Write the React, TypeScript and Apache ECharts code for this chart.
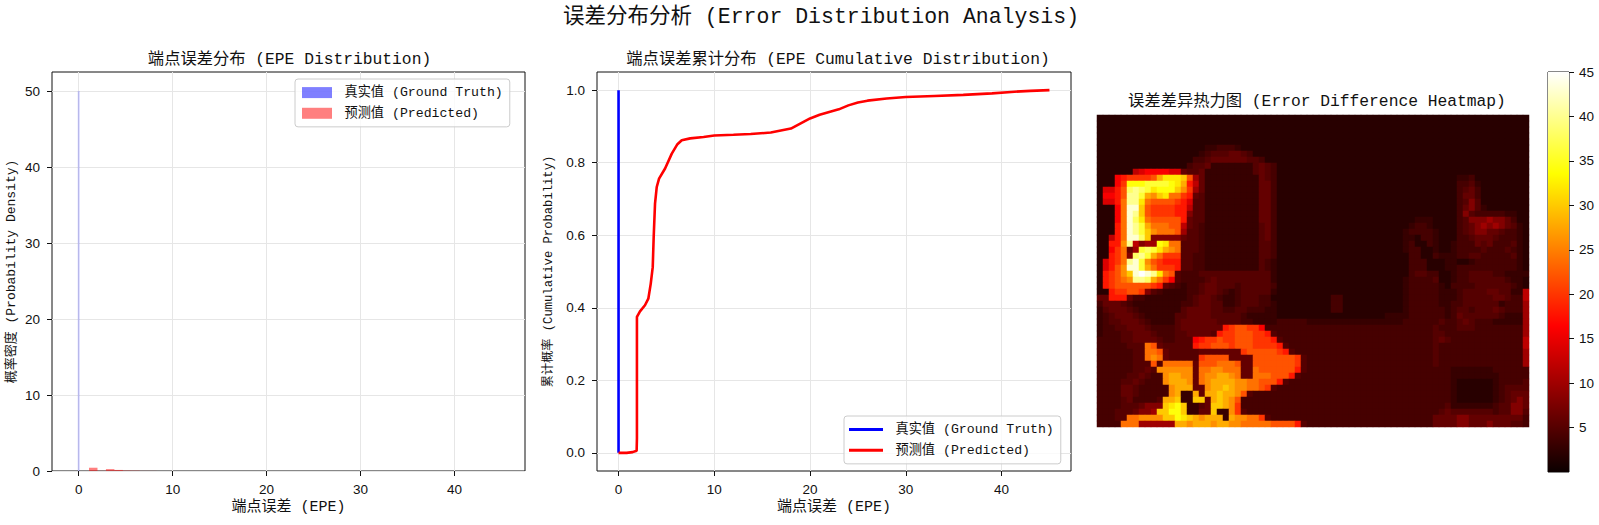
import React, { useEffect, useRef } from "react";
import * as echarts from "echarts";

const SUPTITLE = "误差分布分析 (Error Distribution Analysis)";
const TITLE_HIST = "端点误差分布 (EPE Distribution)";
const TITLE_CDF = "端点误差累计分布 (EPE Cumulative Distribution)";
const TITLE_HEAT = "误差差异热力图 (Error Difference Heatmap)";
const X_LABEL = "端点误差 (EPE)";
const Y_LABEL_HIST = "概率密度 (Probability Density)";
const Y_LABEL_CDF = "累计概率 (Cumulative Probability)";
const NAME_GT = "真实值 (Ground Truth)";
const NAME_PRED = "预测值 (Predicted)";

const X_TICKS = [0, 10, 20, 30, 40];
const HIST_Y_TICKS = [0, 10, 20, 30, 40, 50];
const CDF_Y_TICKS = [0, 0.2, 0.4, 0.6, 0.8, 1.0];
const BAR_TICKS = [5, 10, 15, 20, 25, 30, 35, 40, 45];

// histogram bins: [from, to, density]
const HIST_GT = [[-0.1, 0.1, 50]];
const HIST_PRED = [
  [1.1, 2.0, 0.43], [2.0, 2.9, 0.02], [2.9, 3.8, 0.25], [3.8, 4.7, 0.14], [4.7, 5.6, 0.05],
  [5.6, 6.5, 0.04], [6.5, 7.4, 0.01], [7.4, 8.3, 0.01], [8.3, 15, 0.005], [15, 25, 0.006], [25, 45, 0.001],
];

const CDF_GT = [[0, 0], [0, 1]];
const CDF_PRED = [
  [0, 0], [0.84, 0], [1.47, 0.002], [1.89, 0.006], [1.92, 0.04], [1.92, 0.227], [1.92, 0.375], [2.24, 0.39],
  [2.76, 0.407], [3.11, 0.425], [3.36, 0.466], [3.57, 0.512], [3.67, 0.595], [3.81, 0.687], [3.99, 0.733],
  [4.23, 0.756], [4.86, 0.784], [5.56, 0.825], [6.15, 0.851], [6.6, 0.862], [7.48, 0.867], [8.88, 0.871],
  [10, 0.875], [12, 0.877], [13.8, 0.879], [15.9, 0.883], [18, 0.894], [20, 0.922], [21, 0.932], [22, 0.94],
  [23, 0.947], [24, 0.958], [25, 0.966], [26, 0.971], [28, 0.977], [30, 0.981], [33, 0.984], [36, 0.987],
  [39, 0.991], [41, 0.995], [43, 0.998], [45, 1],
];

// value represented by each letter of the heat rows
const HEAT_LEVELS: Record<string, number> = {
  a: 2, b: 3, c: 4, d: 5, e: 6, f: 8, g: 10, h: 12, i: 14, j: 16, k: 18, l: 20, m: 22, n: 24,
  o: 26, p: 28, q: 30, r: 32, s: 34, t: 36, u: 38, v: 40, w: 43, x: 45,
};

// left half of the picture, read from top to bottom (spaces only group the letters)
const HEAT_LEFT = [
  "aaaaaaaaaaaaaaaaaaaaaaaaaaaaaaaaaaaa",
  "aaaaaaaaaaaaaaaaaaaaaaaaaaaaaaaaaaaa",
  "aaaaaaaaaaaaaaaaaaaaaaaaaaaaaaaaaaaa",
  "aaaaaaaaaaaaaaaaaaaaaaaaaaaaaaaaaaaa",
  "aaaaaaaaaaaaaaaaaaaaaaaaaaaaaaaaaaaa",
  "aaaaaaaaaaaaaaaaaa bbcccb aaaaaaaaaaaa",
  "aaaaaaaaaaaaaaaaa bcdddeedc aaaaaaaaaa",
  "aaaaaaaaaaaaaaaa ccdeeeeeeddc aaaaaaaa",
  "aaaaaaaaaaaaaaa cddebbbbbbbdedc aaaaaa",
  "aaaaaa hijjjjii edd e bbbbbbbb ded c aaaaaa",
  "aaa jkllllm prrrq mg e bbbbbbbbb ed c aaaaaa",
  "aaa jl ssstt ttsrp kh e bbbbbbbbb eec aaaaaa",
  "a iikm uvutr sssqo lg e bbbbbbbbb eec aaaaaa",
  "a jjkm vvtpo qrnnl ke d bbbbbbbbb eec aaaaaa",
  "a iikn vvrnm mmmlk id d bbbbbbbbb eec aaaaaa",
  "aaa jn wwqml lllkk hd d bbbbbbbbb eec aaaaaa",
  "aaa jn wvqml lllkk fd d bbbbbbbbb eec aaaaaa",
  "aaa jn wurnm mmmmk ed d bbbbbbbbb eec aaaaaa",
  "aaa kn wvtpn nnmmh ed c bbbbbbbbb dec aaaaaa",
  "aaa kn wvtqo nnnmg dd c bbbbbbbbb dec aaaaaa",
  "aa hkn wwuqf ffffe dd c bbbbbbbbb dec aaaaaa",
  "aa kko vhfgg srnnd dd c bbbbbbbbb ddc aaaaaa",
  "aa jln egtut rpond dd c bbbbbbbbb ddc aaaaaa",
  "aa kln fuvtp nllld dc c bbbbbbbbb ddc aaaaaa",
  "a ikln vwtom lkkkd dc c bbbbbbbbb dcb aaaaaa",
  "a ikmo wwtpn lllkd dc c bbbbbbbbb dcb aaaaaa",
  "a klmo qwxwv rnmdc cc dddddddddd ddb aaaaaa",
  "a klmn ovvup nljdc cc cdeddddddd ddb aaaaaa",
  "a klmm mmmml kedcb cc deedddcddd ddc aaaaaa",
  "aa kll mmlfd cbbbb cc deedcbcddd ddb aaaaaa",
  "ee kkk eccbb bbbbb cd eedcbbcddd cca aaaaaa",
  "cee edcb bbbbbb bccd eeddbbcddd ccb aaaaaa",
  "bde eedc bbbbbb bdee eeddccddcc cbb aaaaaa",
  "bcd eeed cbbbbb ddee eedddddcbb bbb aaaaaa",
  "bcd deee dcbbbb deee eeeddddccb bbb cccccb",
  "bcc ddee edcccc deee eeeeklmmll jcc cccccc",
  "bcc cdde eedccc ddee eedkllmmml lkd cccccc",
  "ccc cdde eeedcc dddj kllmllmmml llk dccccc",
  "ccc ccdd dnmedd dddk llmmmlmmml lll kdcccc",
  "ccc cccd dnnmed dddd eeeeeeelmm mmm lkdccc",
  "ccc cccd dnoned dddd lmmmmeeeem mmm mmmldc",
  "ccc cccd ddmdnn nnne mmmnnnmeem mmm mmmldc",
  "ccc cccd dedooo oooe nnoonnneen mmm mmmkdc",
  "ccc ccdd edccop pooe noopponeen nnm mmkdcc",
  "ccc cdde dcccop ppoe noppppoonn mmm kdcccc",
  "ccc ceed ccccco pppe eoppqpoonn mld cccccc",
  "ccc ceed ccccco pbbp eppqppomdc ccc cccccc",
  "ccc cdec cccdpp qbbq qepqpomccc ccc cccccc",
  "ccc cddd efffqr sqbb deqqpolccc ccc cccccc",
  "ccc ddde ffgqqs sqbb eeqbboldcc ccc cccccc",
  "ccc ddnn ooooqq srqp opppbpoonn ldc cccccc",
  "ccc cnnn gggggg ppop ppoppoonnn nnm mmmkdc",
];

// right half of the picture, same rows
const HEAT_RIGHT = [
  "aaaaaaaaaaaaaaaaaaaaaaaaaaaaaaaaaaaa",
  "aaaaaaaaaaaaaaaaaaaaaaaaaaaaaaaaaaaa",
  "aaaaaaaaaaaaaaaaaaaaaaaaaaaaaaaaaaaa",
  "aaaaaaaaaaaaaaaaaaaaaaaaaaaaaaaaaaaa",
  "aaaaaaaaaaaaaaaaaaaaaaaaaaaaaaaaaaaa",
  "aaaaaaaaaaaaaaaaaaaaaaaaaaaaaaaaaaaa",
  "aaaaaaaaaaaaaaaaaaaaaaaaaaaaaaaaaaaa",
  "aaaaaaaaaaaaaaaaaaaaaaaaaaaaaaaaaaaa",
  "aaaaaaaaaaaaaaaaaaaaaaaaaaaaaaaaaaaa",
  "aaaaaaaaaaaaaaaaaaaaaaaaaaaaaaaaaaaa",
  "aaaaaaaaaaaaaaaaaaaaaaaa bbc aaaaaaaaa",
  "aaaaaaaaaaaaaaaaaaaaaaaa ccdb aaaaaaaa",
  "aaaaaaaaaaaaaaaaaaaaaaaa cdec aaaaaaaa",
  "aaaaaaaaaaaaaaaaaaaaaaaa ceec aaaaaaaa",
  "aaaaaaaaaaaaaaaaaaaaaaaa cdfd aaaaaaaa",
  "aaaaaaaaaaaaaaaaaaaaaaaa cefdb aaaaaaa",
  "aaaaaaaaaaaaaaaaaaaaaaaa cfdcccccbb aa",
  "aaaaaaaaaaaaaaaaa bbb aaaa cdfffgffec aa",
  "aaaaaaaaaaaaaaaa bccb aaaa cdefgfgfed ba",
  "aaaaaaaaaaaaaaa bccccb aaa cdeffeedcc ba",
  "aaaaaaaaaaaaaaa bbaccb aaa ccdeeedccc ba",
  "aaaaaaaaaaaaaaa bcaacb aab cccedecccd ba",
  "aaaaaaaaaaaaaaa bccaab aab ccccdcccdc ba",
  "aaaaaaaaaaaaaaa accaac bbb ccddcccccd ba",
  "aaaaaaaaaaaaaaa acccaa abb aabccccccc ba",
  "aaaaaaaaaaaaaaa acccaa abb cccccccccc ba",
  "aaaaaaaaaaaaaaaa cddcc aab ccd dddcc bbbb",
  "aaaaaaaaaaaaaaa bccccd aab ccdddd ddcb ba",
  "aaaaaaaaaaaaaaa bccccc bac cccddd dddc ba",
  "aaaaaaaaaaaaaaa bccccc bbb cdddde eddb bh",
  "aaaccaaaaaaaaaa bccccc bbb cddddd eedc ch",
  "aaaccaaaaaaaaaa bccccc bbc cddddd dbcc cg",
  "aaaccaaaaaaaaaa bccccc cbc ddcddd edcc cg",
  "aaaaaaaaaaaabbb bccccc cbc eddddd dcbb bg",
  "bbbbbbbbbbbbbbb ccccc c dcc dedccc bbbb bg",
  "ccccccccccccccc ccccc d ccc dddccc cccc cg",
  "ccccccccccccccc ccccc d dcc cccccc cccc cg",
  "ccccccccccccccc ccccc d edc cccccc cccc ch",
  "ccccccccccccccc ccccc d ccc cccccc cccc ch",
  "ccccccccccccccc ccccc d ccc cccccc cccc cg",
  "ccccccccccccccc ccccc d ccc cccccc cccc cg",
  "ccccccccccccccc ccccc d ccc cccccc cccc cg",
  "ccccccccccccccc cccccc ccb bbbbbb cccc cc",
  "ccccccccccccccc cccccc ccb bbbbbb bccc cc",
  "ccccccccccccccc cccccc ccb aaaaaa bccc cd",
  "ccccccccccccccc cccccc ccb aaaaaa bcdd dd",
  "ccccccccccccccc cccccc ccb aaaaaa bcde ee",
  "ccccccccccccccc cccccc ccb aaaaaa bcde fe",
  "ccccccccccccccc cccccc cdb bbbbbb cddf fe",
  "ccccccccccccccc cccccc ded dddddd cddf fd",
  "ccccccccccccccc ccccce eee ffeeee eeee ec",
  "ccccccccccccccc ccccce eee ffeeef eeed dc",
];

const SANS = "Liberation Sans, sans-serif";
const MIXED = "Liberation Mono, Noto Sans CJK SC, monospace";
const INK = "#111111";
const GRID_LINE = "#e6e6e6";

function hot(t: number): string {
  const r = Math.min(1, 0.0416 + (t / 0.365) * (1 - 0.0416));
  const g = Math.max(0, Math.min(1, (t - 0.365) / (0.746 - 0.365)));
  const b = Math.max(0, Math.min(1, (t - 0.746) / (1 - 0.746)));
  const hex = (v: number) => Math.round(v * 255).toString(16).padStart(2, "0");
  return "#" + hex(r) + hex(g) + hex(b);
}

const HOT_COLORS = Array.from({ length: 46 }, (_, i) => hot(i / 45));

function histRender(fill: string) {
  return (_: unknown, api: any) => {
    const a = api.coord([api.value(0), 0]);
    const b = api.coord([api.value(1), api.value(2)]);
    return { type: "rect", shape: { x: a[0], y: b[1], width: b[0] - a[0], height: a[1] - b[1] }, style: { fill } };
  };
}

function valueAxisCommon(ticks: number[], fontSize: number, labelMargin: number, extra: any, formatter?: (v: number) => string) {
  return {
    type: "value",
    axisLine: { show: false, onZero: false },
    axisTick: { show: true, length: 5, lineStyle: { color: INK, width: 1 }, customValues: ticks },
    axisLabel: { color: INK, fontFamily: SANS, fontSize: 13.5, margin: labelMargin, customValues: ticks, formatter },
    splitLine: { show: true, lineStyle: { color: GRID_LINE, width: 1 } },
    nameLocation: "middle",
    nameMoveOverlap: false,
    nameTextStyle: { color: INK, fontFamily: MIXED, fontSize },
    ...extra,
  };
}

export default function App() {
  const ref = useRef<HTMLDivElement>(null);
  useEffect(() => {
    document.body.style.margin = "0";
    const chart = echarts.init(ref.current!, null, { renderer: "svg" });
    const heatData: number[][] = [];
    HEAT_LEFT.forEach((left, y) => {
      const row = (left + HEAT_RIGHT[y]).replace(/ /g, "");
      for (let x = 0; x < 72; x++) heatData.push([x, y, HEAT_LEVELS[row[x] ?? "a"]]);
    });
    const titleStyle = { color: INK, fontFamily: MIXED, fontSize: 16.3, fontWeight: "normal" as const };
    const legendBase = {
      orient: "vertical",
      align: "left",
      backgroundColor: "rgba(255,255,255,0.8)",
      borderColor: "#cccccc",
      borderWidth: 1,
      borderRadius: 3,
      itemGap: 7.5,
      selectedMode: false,
      textStyle: { color: INK, fontFamily: MIXED, fontSize: 13.2, padding: [0, 0, 0, 7.5] },
      formatter: (n: string) => n.trim(),
    };
    chart.setOption({
      animation: false,
      backgroundColor: "#ffffff",
      title: [
        { text: SUPTITLE, left: 816, top: 1, textAlign: "center", textStyle: { ...titleStyle, fontSize: 21.5 } },
        { text: TITLE_HIST, left: 284.5, top: 46, textAlign: "center", textStyle: titleStyle },
        { text: TITLE_CDF, left: 833, top: 46, textAlign: "center", textStyle: titleStyle },
        { text: TITLE_HEAT, left: 1312, top: 88, textAlign: "center", textStyle: titleStyle },
      ],
      grid: [
        { left: 52, top: 72, width: 473, height: 399, show: true, borderColor: INK, borderWidth: 1, backgroundColor: "transparent" },
        { left: 597, top: 72, width: 474, height: 399, show: true, borderColor: INK, borderWidth: 1, backgroundColor: "transparent" },
        { left: 1097, top: 115, width: 432, height: 312, show: false },
        { left: 1548, top: 72, width: 21, height: 400, show: true, borderColor: INK, borderWidth: 1, backgroundColor: "transparent" },
      ],
      xAxis: [
        valueAxisCommon(X_TICKS, 15, 11, { gridIndex: 0, min: -2.84, max: 47.5, name: X_LABEL, nameGap: 29 }),
        valueAxisCommon(X_TICKS, 15, 11, { gridIndex: 1, min: -2.25, max: 47.25, name: X_LABEL, nameGap: 29 }),
        { type: "category", gridIndex: 2, show: false, data: Array.from({ length: 72 }, (_, i) => i) },
        { type: "category", gridIndex: 3, show: false, data: [0] },
      ],
      yAxis: [
        valueAxisCommon(HIST_Y_TICKS, 13, 12, { gridIndex: 0, min: 0, max: 52.5, name: Y_LABEL_HIST, nameGap: 34 }),
        valueAxisCommon(CDF_Y_TICKS, 12.2, 12, { gridIndex: 1, min: -0.05, max: 1.05, name: Y_LABEL_CDF, nameGap: 42 }, (v: number) => v.toFixed(1)),
        { type: "category", gridIndex: 2, show: false, inverse: true, data: Array.from({ length: 52 }, (_, i) => i) },
        {
          type: "value", gridIndex: 3, min: 0, max: 45, position: "right",
          axisLine: { show: false, onZero: false }, splitLine: { show: false },
          axisTick: { show: true, length: 5, lineStyle: { color: INK }, customValues: BAR_TICKS },
          axisLabel: { color: INK, fontFamily: SANS, fontSize: 13.5, margin: 10, customValues: BAR_TICKS },
        },
      ],
      legend: [
        {
          ...legendBase, left: 295, top: 79, padding: [7, 7, 7, 7], itemWidth: 30, itemHeight: 11,
          data: [
            { name: NAME_GT, icon: "rect", itemStyle: { color: "rgba(0,0,255,0.5)" } },
            { name: NAME_PRED, icon: "rect", itemStyle: { color: "rgba(255,0,0,0.5)" } },
          ],
        },
        {
          ...legendBase, left: 844, top: 416, padding: [7, 7, 7, 5], itemWidth: 34, itemHeight: 3,
          data: [
            { name: NAME_GT + " ", icon: "rect", itemStyle: { color: "#0000ff" } },
            { name: NAME_PRED + " ", icon: "rect", itemStyle: { color: "#ff0000" } },
          ],
        },
      ],
      visualMap: { show: false, seriesIndex: 4, min: 0, max: 45, inRange: { color: HOT_COLORS } },
      series: [
        {
          type: "custom", name: NAME_GT, xAxisIndex: 0, yAxisIndex: 0, data: HIST_GT, clip: true,
          encode: { x: [0, 1], y: 2 }, renderItem: histRender("rgba(0,0,255,0.2)"), itemStyle: { color: "rgba(0,0,255,0.5)" },
        },
        {
          type: "custom", name: NAME_PRED, xAxisIndex: 0, yAxisIndex: 0, data: HIST_PRED, clip: true,
          encode: { x: [0, 1], y: 2 }, renderItem: histRender("rgba(255,0,0,0.5)"), itemStyle: { color: "rgba(255,0,0,0.5)" },
        },
        {
          type: "line", name: NAME_GT + " ", xAxisIndex: 1, yAxisIndex: 1, data: CDF_GT, symbol: "none",
          lineStyle: { color: "#0000ff", width: 2.6 }, itemStyle: { color: "#0000ff" },
        },
        {
          type: "line", name: NAME_PRED + " ", xAxisIndex: 1, yAxisIndex: 1, data: CDF_PRED, symbol: "none",
          lineStyle: { color: "#ff0000", width: 2.6 }, itemStyle: { color: "#ff0000" },
        },
        {
          type: "heatmap", xAxisIndex: 2, yAxisIndex: 2, data: heatData, progressive: 0, silent: true,
          emphasis: { disabled: true },
        },
        {
          type: "bar", xAxisIndex: 3, yAxisIndex: 3, data: [45], barWidth: "100%", silent: true,
          itemStyle: {
            color: new echarts.graphic.LinearGradient(0, 1, 0, 0, [
              { offset: 0, color: hot(0) },
              { offset: 0.365, color: hot(0.365) },
              { offset: 0.746, color: hot(0.746) },
              { offset: 1, color: hot(1) },
            ]),
          },
        },
      ],
    });
    return () => chart.dispose();
  }, []);
  return <div ref={ref} style={{ width: 1599, height: 525 }} />;
}
